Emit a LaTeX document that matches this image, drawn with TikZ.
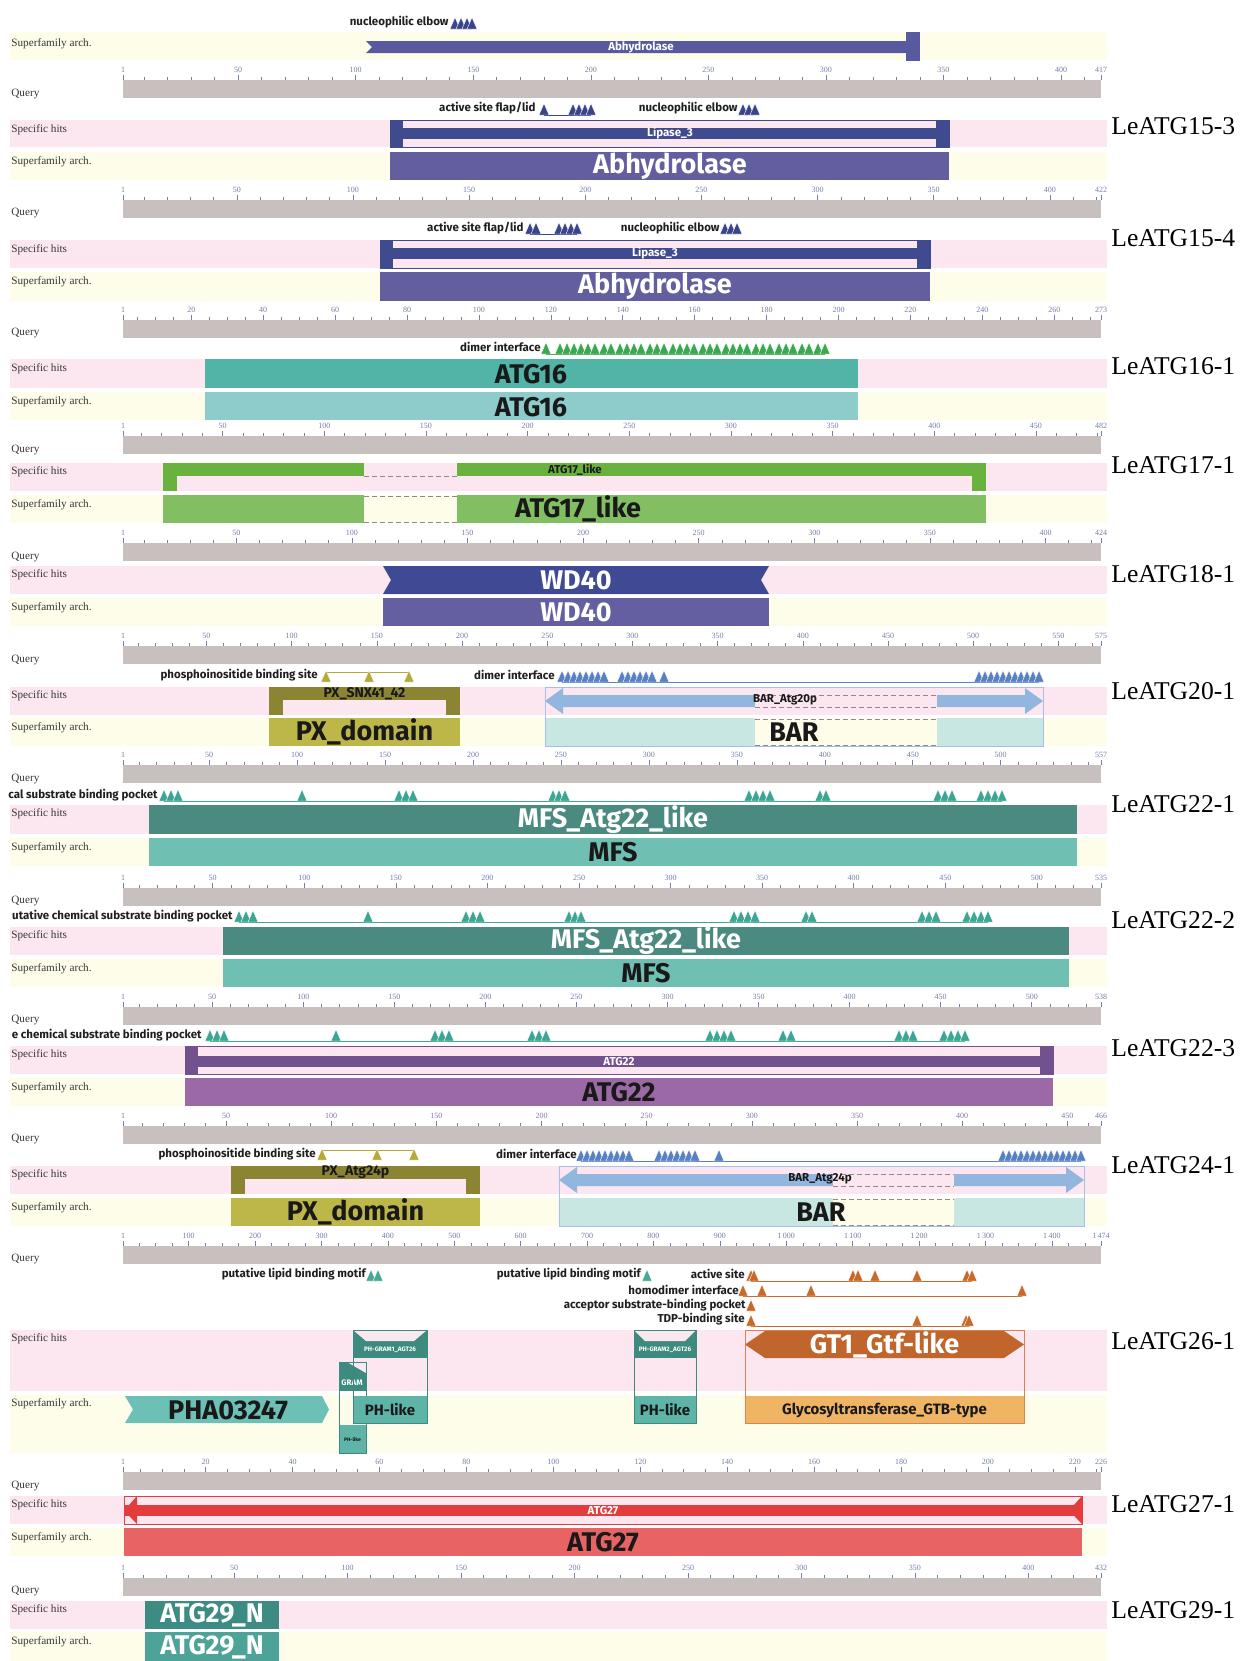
\documentclass[tikz,border=0pt]{standalone}
\usepackage{fontspec}
\setmainfont{Liberation Serif}
\newfontfamily\fira{Fira Sans}
\definecolor{spbg}{RGB}{252,230,240}
\definecolor{sfbg}{RGB}{253,253,233}
\definecolor{qgray}{RGB}{200,192,190}
\definecolor{rulc}{RGB}{118,126,170}
\definecolor{rowc}{RGB}{55,55,55}
\definecolor{navy}{RGB}{58,68,138}
\definecolor{abhy}{RGB}{99,95,158}
\definecolor{abhyA}{RGB}{88,90,160}
\definecolor{lipase}{RGB}{64,74,143}
\definecolor{gsite}{RGB}{58,168,78}
\definecolor{atgsp}{RGB}{82,180,166}
\definecolor{atgsf}{RGB}{142,204,204}
\definecolor{ssp}{RGB}{106,178,62}
\definecolor{ssf}{RGB}{130,190,98}
\definecolor{wsp}{RGB}{64,74,148}
\definecolor{wsf}{RGB}{99,95,160}
\definecolor{pxsp}{RGB}{139,132,51}
\definecolor{pxsf}{RGB}{189,183,74}
\definecolor{phos}{RGB}{180,170,55}
\definecolor{barar}{RGB}{147,182,222}
\definecolor{barol}{RGB}{165,192,230}
\definecolor{barsf}{RGB}{200,230,226}
\definecolor{dblue}{RGB}{88,128,196}
\definecolor{msp}{RGB}{75,138,128}
\definecolor{msf}{RGB}{111,192,179}
\definecolor{pock}{RGB}{60,165,147}
\definecolor{asp}{RGB}{114,81,142}
\definecolor{asf}{RGB}{155,106,166}
\definecolor{gtone}{RGB}{192,101,44}
\definecolor{gtb}{RGB}{240,180,101}
\definecolor{gtol}{RGB}{215,130,80}
\definecolor{osite}{RGB}{200,105,42}
\definecolor{lsite}{RGB}{72,168,152}
\definecolor{pha}{RGB}{108,192,181}
\definecolor{phg}{RGB}{61,139,127}
\definecolor{phl}{RGB}{93,180,167}
\definecolor{rsp}{RGB}{226,60,60}
\definecolor{rsf}{RGB}{232,100,100}
\definecolor{tsp}{RGB}{60,140,132}
\definecolor{tsf}{RGB}{78,163,152}
\definecolor{dashc}{RGB}{140,140,140}
\newcommand{\fRow}{\fontsize{5.6}{6.5}\selectfont}
\newcommand{\fRul}{\fontsize{4}{4.5}\selectfont}
\newcommand{\fSite}{\fira\bfseries\fontsize{5.75}{6.5}\selectfont}
\newcommand{\fBig}{\fira\bfseries\fontsize{13.5}{15}\selectfont}
\newcommand{\fMid}{\fira\bfseries\fontsize{7}{8}\selectfont}
\newcommand{\fSmall}{\fira\bfseries\fontsize{5.75}{6.5}\selectfont}
\newcommand{\fRight}{\fontsize{12.8}{14}\selectfont}
\tikzset{
 rl/.style={anchor=west,inner sep=0,text=rowc,font=\fRow},
 rn/.style={inner sep=0,text=rulc,font=\fRul},
 tk/.style={draw=rulc,line width=0.3pt},
 site/.style={anchor=east,inner sep=0,text=black!88,font=\fSite},
 lbBig/.style={inner sep=0,font=\fBig},
 lbMid/.style={inner sep=0,font=\fMid},
 lbSml/.style={inner sep=0,font=\fSmall},
 rt/.style={anchor=west,inner sep=0,font=\fRight},
 dsh/.style={draw=dashc,dash pattern=on 2.5pt off 1.5pt,line width=0.4pt},
 ol/.style={line width=0.5pt},
 sline/.style={line width=0.5pt},
}
\newcommand{\bgstripe}[3]{\fill[#1] (10,#2) rectangle (1107,#3);}
\newcommand{\tris}[3]{\foreach \x in {#3}{\fill[#1,draw=white,line width=0.2pt] (\x-5,#2) -- (\x,#2-11.5) -- (\x+5,#2) -- cycle;}}
\newcommand{\qruler}[4]{%
  \fill[qgray] (123,#1) rectangle (1101,#1+18);
  \pgfmathtruncatemacro{\nmin}{(#2)/(#3)}%
  \foreach \k in {1,...,\nmin}{%
    \pgfmathsetmacro{\xx}{123+(\k*#3-1)/(#2-1)*978}%
    \draw[tk] (\xx,#1-0.5) -- (\xx,#1-3);}%
  \foreach \v in {#4}{%
    \pgfmathsetmacro{\xx}{123+(\v-1)/(#2-1)*978}%
    \draw[tk] (\xx,#1-0.5) -- (\xx,#1-5.5);
    \node[rn] at (\xx,#1-10.5) {\v};}%
}
\newcommand{\capbar}[6]{%
  \draw[#1,ol] (#2,#4+0.5) rectangle (#3,#5);
  \fill[#1] (#2,#4) rectangle (#2+13,#5);
  \fill[#1] (#3-13,#4) rectangle (#3,#5);
  \fill[#1] (#2,#6-5.5) rectangle (#3,#6+5.5);}
\newcommand{\pxbracket}[5]{%
  \fill[#1] (#2,#4) rectangle (#3,#4+13);
  \fill[#1] (#2,#4) rectangle (#2+14,#5);
  \fill[#1] (#3-14,#4) rectangle (#3,#5);}
\newcommand{\dblarrow}[4]{%
  \fill[#1] (#2,#4) -- (#2+18,#4-13) -- (#2+18,#4-6) -- (#3-18,#4-6) -- (#3-18,#4-13) -- (#3,#4)
   -- (#3-18,#4+13) -- (#3-18,#4+6) -- (#2+18,#4+6) -- (#2+18,#4+13) -- cycle;}
\begin{document}
\begin{tikzpicture}[x=0.5pt,y=-0.5pt]
\useasboundingbox (0,0) rectangle (1239,1661);
\clip (0,0) rectangle (1239,1661);
\fill[white] (0,0) rectangle (1239,1661);

% ---------------- Block A
\bgstripe{sfbg}{32}{60}
\node[rl] (lA1) at (11,44) {Superfamily arch.};
\node[site] (sA1) at (449,22) {nucleophilic elbow};
\tris{navy}{29}{455,461,467,472}
\fill[abhyA] (366,41) -- (906,41) -- (906,53) -- (366,53) -- (372,47) -- cycle;
\fill[abhyA] (906,32) rectangle (920,61);
\node[lbSml,text=white] (dA1) at (641,47) {Abhydrolase};
\qruler{80}{417}{10}{1,50,100,150,200,250,300,350,400,417}
\node[rl] (qA) at (11,94) {Query};

% ---------------- Block B  LeATG15-3
\bgstripe{spbg}{120}{147}
\bgstripe{sfbg}{152}{180}
\node[rl] (lB1) at (11,130) {Specific hits};
\node[rl] (lB2) at (11,162) {Superfamily arch.};
\node[site] (sB1) at (536,108) {active site flap/lid};
\draw[navy,sline] (544,115) -- (591,115);
\tris{navy}{115}{544,573,579,585,591}
\node[site] (sB2) at (738,108) {nucleophilic elbow};
\tris{navy}{115}{743,749,755}
\capbar{lipase}{390}{949}{120}{147}{133}
\node[lbSml,text=white] (dB1) at (670,133) {Lipase\_3};
\fill[abhy] (390,152) rectangle (949,180);
\node[lbBig,text=white] (dB2) at (670,166) {Abhydrolase};
\qruler{200}{422}{10}{1,50,100,150,200,250,300,350,400,422}
\node[rl] (qB) at (11,213) {Query};
\node[rt] (tB) at (1111,126) {LeATG15-3};

% ---------------- Block C  LeATG15-4
\bgstripe{spbg}{240}{268}
\bgstripe{sfbg}{272}{301}
\node[rl] (lC1) at (11,250) {Specific hits};
\node[rl] (lC2) at (11,282) {Superfamily arch.};
\node[site] (sC1) at (524,228) {active site flap/lid};
\draw[navy,sline] (530,234) -- (577,234);
\tris{navy}{234}{530,536,559,565,571,577}
\node[site] (sC2) at (720,228) {nucleophilic elbow};
\tris{navy}{234}{725,731,737}
\capbar{lipase}{380}{930}{240}{268}{253.5}
\node[lbSml,text=white] (dC1) at (655,253.5) {Lipase\_3};
\fill[abhy] (380,272) rectangle (930,301);
\node[lbBig,text=white] (dC2) at (655,286.5) {Abhydrolase};
\qruler{320}{273}{5}{1,20,40,60,80,100,120,140,160,180,200,220,240,260,273}
\node[rl] (qC) at (11,333) {Query};
\node[rt] (tC) at (1111,238) {LeATG15-4};

% ---------------- Block D  LeATG16-1
\bgstripe{spbg}{359}{388}
\bgstripe{sfbg}{392}{420}
\node[rl] (lD1) at (11,369) {Specific hits};
\node[rl] (lD2) at (11,402) {Superfamily arch.};
\node[site] (sD1) at (541,347) {dimer interface};
\draw[gsite,sline] (546,354) -- (825,354);
\tris{gsite}{354}{546,560,567,574,581,588,595,604,611,620,627,634,641,650,657,664,673,680,687,694,703,710,717,726,733,740,747,756,763,770,779,786,793,802,809,818,825}
\fill[atgsp] (205,359) rectangle (858,388);
\node[lbBig,text=black!90] (dD1) at (531,374) {ATG16};
\fill[atgsf] (205,392) rectangle (858,420);
\node[lbBig,text=black!90] (dD2) at (531,407) {ATG16};
\qruler{436}{482}{10}{1,50,100,150,200,250,300,350,400,450,482}
\node[rl] (qD) at (11,450) {Query};
\node[rt] (tD) at (1111,366) {LeATG16-1};

% ---------------- Block E  LeATG17-1
\bgstripe{spbg}{463}{491}
\bgstripe{sfbg}{495}{523}
\node[rl] (lE1) at (11,472) {Specific hits};
\node[rl] (lE2) at (11,505) {Superfamily arch.};
\pxbracket{ssp}{163}{986}{463}{491}
\fill[spbg] (364,463) rectangle (457,476.5);
\draw[dsh] (364,476) -- (457,476);
\node[lbSml,text=black!90] (dE1) at (575,469.5) {ATG17\_like};
\fill[ssf] (163,495) rectangle (986,523);
\fill[sfbg] (364,495) rectangle (457,523);
\draw[dsh] (364,496) -- (457,496);
\draw[dsh] (364,522) -- (457,522);
\node[lbBig,text=black!90] (dE2) at (578,509) {ATG17\_like};
\qruler{543}{424}{10}{1,50,100,150,200,250,300,350,400,424}
\node[rl] (qE) at (11,557) {Query};
\node[rt] (tE) at (1111,465) {LeATG17-1};

% ---------------- Block F  LeATG18-1
\bgstripe{spbg}{566}{594}
\bgstripe{sfbg}{598}{626}
\node[rl] (lF1) at (11,575) {Specific hits};
\node[rl] (lF2) at (11,608) {Superfamily arch.};
\fill[wsp] (383,566) -- (769,566) -- (761,580) -- (769,594) -- (383,594) -- (391,580) -- cycle;
\node[lbBig,text=white] (dF1) at (576,580) {WD40};
\fill[wsf] (383,598) rectangle (769,626);
\node[lbBig,text=white] (dF2) at (576,612) {WD40};
\qruler{646}{575}{10}{1,50,100,150,200,250,300,350,400,450,500,550,575}
\node[rl] (qF) at (11,660) {Query};
\node[rt] (tF) at (1111,574) {LeATG18-1};

% ---------------- Block G  LeATG20-1
\bgstripe{spbg}{687}{715}
\bgstripe{sfbg}{718}{746}
\node[rl] (lG1) at (11,696) {Specific hits};
\node[rl] (lG2) at (11,728) {Superfamily arch.};
\node[site] (sG1) at (318,675) {phosphoinositide binding site};
\draw[phos,sline] (326,672) -- (409,672);
\tris{phos}{682}{326,369,409}
\node[site] (sG2) at (555,675) {dimer interface};
\draw[dblue,sline] (562,682) -- (1039,682);
\tris{dblue}{682}{562,568,574,580,586,592,598,604,622,628,634,640,646,652,664,979,985,991,997,1003,1009,1015,1021,1027,1033,1039}
\pxbracket{pxsp}{269}{460}{687}{715}
\node[lbMid,text=black!90] (dG1) at (364.5,693.5) {PX\_SNX41\_42};
\fill[pxsf] (269,718) rectangle (460,746);
\node[lbBig,text=black!90] (dG2) at (364.5,732) {PX\_domain};
\dblarrow{barar}{545}{1043}{701}
\fill[spbg] (755,694) rectangle (937,708);
\draw[dsh] (755,695) -- (937,695);
\draw[dsh] (755,707) -- (937,707);
\node[lbSml,text=black!90] (dG3) at (785,700) {BAR\_Atg20p};
\fill[barsf] (545,718) rectangle (1043,746);
\fill[sfbg] (755,718) rectangle (937,746);
\draw[dsh] (755,719) -- (937,719);
\draw[dsh] (755,745) -- (937,745);
\draw[barol,ol] (545,687) rectangle (1043,746);
\node[lbBig,text=black!90] (dG4) at (794,732) {BAR};
\qruler{765}{557}{10}{1,50,100,150,200,250,300,350,400,450,500,557}
\node[rl] (qG) at (11,779) {Query};
\node[rt] (tG) at (1111,691) {LeATG20-1};

% ---------------- Block H  LeATG22-1
\bgstripe{spbg}{805}{834}
\bgstripe{sfbg}{838}{866}
\node[rl] (lH1) at (11,814) {Specific hits};
\node[rl] (lH2) at (11,848) {Superfamily arch.};
\node[site] (sH1) at (158,795) {cal substrate binding pocket};
\draw[pock,sline] (164,801) -- (1002,801);
\tris{pock}{801}{164,171,178,302,399,406,413,553,559,565,749,756,763,770,820,826,938,945,952,981,988,995,1002}
\fill[msp] (149,805) rectangle (1077,834);
\node[lbBig,text=white] (dH1) at (613,819.5) {MFS\_Atg22\_like};
\fill[msf] (149,838) rectangle (1077,866);
\node[lbBig,text=black!90] (dH2) at (613,852) {MFS};
\qruler{888}{535}{10}{1,50,100,150,200,250,300,350,400,450,500,535}
\node[rl] (qH) at (11,901) {Query};
\node[rt] (tH) at (1111,804) {LeATG22-1};

% ---------------- Block I  LeATG22-2
\bgstripe{spbg}{927}{955}
\bgstripe{sfbg}{959}{987}
\node[rl] (lI1) at (11,936) {Specific hits};
\node[rl] (lI2) at (11,969) {Superfamily arch.};
\node[site] (sI1) at (233,916) {utative chemical substrate binding pocket};
\draw[pock,sline] (239,922) -- (988,922);
\tris{pock}{922}{239,246,253,368,466,473,480,569,575,581,734,741,748,755,806,812,922,929,936,967,974,981,988}
\fill[msp] (223,927) rectangle (1069,955);
\node[lbBig,text=white] (dI1) at (646,941) {MFS\_Atg22\_like};
\fill[msf] (223,959) rectangle (1069,987);
\node[lbBig,text=black!90] (dI2) at (646,973) {MFS};
\qruler{1007}{538}{10}{1,50,100,150,200,250,300,350,400,450,500,538}
\node[rl] (qI) at (11,1020) {Query};
\node[rt] (tI) at (1111,920) {LeATG22-2};

% ---------------- Block J  LeATG22-3
\bgstripe{spbg}{1046}{1074}
\bgstripe{sfbg}{1078}{1106}
\node[rl] (lJ1) at (11,1055) {Specific hits};
\node[rl] (lJ2) at (11,1088) {Superfamily arch.};
\node[site] (sJ1) at (202,1035) {e chemical substrate binding pocket};
\draw[pock,sline] (210,1041) -- (965,1041);
\tris{pock}{1041}{210,217,224,336,435,442,449,532,539,546,710,717,724,731,783,791,899,906,913,944,951,958,965}
\capbar{asp}{185}{1053}{1046}{1074}{1061}
\node[lbSml,text=white] (dJ1) at (619,1061) {ATG22};
\fill[asf] (185,1078) rectangle (1053,1106);
\node[lbBig,text=black!90] (dJ2) at (619,1092) {ATG22};
\qruler{1126}{466}{10}{1,50,100,150,200,250,300,350,400,450,466}
\node[rl] (qJ) at (11,1139) {Query};
\node[rt] (tJ) at (1111,1048) {LeATG22-3};

% ---------------- Block K  LeATG24-1
\bgstripe{spbg}{1166}{1194}
\bgstripe{sfbg}{1198}{1226}
\node[rl] (lK1) at (11,1175) {Specific hits};
\node[rl] (lK2) at (11,1208) {Superfamily arch.};
\node[site] (sK1) at (316,1154) {phosphoinositide binding site};
\draw[phos,sline] (322,1150) -- (414,1150);
\tris{phos}{1160}{322,377,414}
\node[site] (sK2) at (577,1154) {dimer interface};
\draw[dblue,sline] (581,1161) -- (1081,1161);
\tris{dblue}{1161}{581,587,593,599,605,611,617,623,629,659,665,671,677,683,689,695,719,1003,1009,1015,1021,1027,1033,1039,1045,1051,1057,1063,1069,1075,1081}
\pxbracket{pxsp}{231}{480}{1166}{1194}
\node[lbMid,text=black!90] (dK1) at (355.5,1172.5) {PX\_Atg24p};
\fill[pxsf] (231,1198) rectangle (480,1226);
\node[lbBig,text=black!90] (dK2) at (355.5,1212) {PX\_domain};
\dblarrow{barar}{559}{1084}{1180}
\fill[spbg] (833,1173) rectangle (954,1187);
\draw[dsh] (833,1174) -- (954,1174);
\draw[dsh] (833,1186) -- (954,1186);
\node[lbSml,text=black!90] (dK3) at (820,1179) {BAR\_Atg24p};
\fill[barsf] (559,1198) rectangle (1084,1226);
\fill[sfbg] (833,1198) rectangle (954,1226);
\draw[dsh] (833,1199) -- (954,1199);
\draw[dsh] (833,1225) -- (954,1225);
\draw[barol,ol] (559,1166) rectangle (1084,1226);
\node[lbBig,text=black!90] (dK4) at (821,1212) {BAR};
\qruler{1246}{1474}{25}{1,100,200,300,400,500,600,700,800,900}
\foreach \v/\t in {1000/1\,000,1100/1\,100,1200/1\,200,1300/1\,300,1400/1\,400,1474/1\,474}{%
  \pgfmathsetmacro{\xx}{123+(\v-1)/1473*978}%
  \draw[tk] (\xx,1245.5) -- (\xx,1240.5);
  \node[rn] at (\xx,1235.5) {\t};}
\node[rl] (qK) at (11,1259) {Query};
\node[rt] (tK) at (1111,1165) {LeATG24-1};

% ---------------- Block L  LeATG26-1
\bgstripe{spbg}{1330}{1391}
\bgstripe{sfbg}{1395}{1453}
\node[rl] (lL1) at (11,1339) {Specific hits};
\node[rl] (lL2) at (11,1404) {Superfamily arch.};
\node[site] (sL1) at (366,1274) {putative lipid binding motif};
\tris{lsite}{1281}{371,378}
\node[site] (sL2) at (641,1274) {putative lipid binding motif};
\tris{lsite}{1281}{647}
\node[site] (sL3) at (745,1274) {active site};
\draw[osite,sline] (751,1281) -- (972,1281);
\tris{osite}{1281}{751,754,853,858,875,917,967,972}
\node[site] (sL4) at (739,1290) {homodimer interface};
\draw[osite,sline] (743,1296) -- (1022,1296);
\tris{osite}{1296}{743,762,811,1022}
\node[site] (sL5) at (746,1305) {acceptor substrate-binding pocket};
\tris{osite}{1311}{751}
\node[site] (sL6) at (745,1319) {TDP-binding site};
\draw[osite,sline] (751,1326) -- (969,1326);
\tris{osite}{1326}{751,917,966,969}
% PHA03247
\fill[pha] (125,1396) -- (322,1396) -- (329,1409.5) -- (322,1423) -- (125,1423) -- (133,1409.5) -- cycle;
\node[lbBig,text=black!90] (dL1) at (228,1410) {PHA03247};
% GRAM
\fill[phg] (339,1362) rectangle (366,1391);
\fill[spbg] (347,1362) -- (366,1362) -- (366,1373) -- cycle;
\node[inner sep=0,font=\fira\bfseries\fontsize{4}{5}\selectfont,text=white] (dL2) at (352,1383) {GRAM};
\fill[phl] (339,1425) rectangle (366,1453);
\node[inner sep=0,font=\fira\bfseries\fontsize{2.5}{3}\selectfont,text=black!90] (dL3) at (352.5,1439) {PH-like};
\draw[phg,ol] (339,1362) rectangle (366,1453);
% PH-GRAM1
\fill[phg] (353,1330) rectangle (427,1358);
\fill[spbg] (353,1330) -- (427,1330) -- (414,1341) -- (366,1341) -- cycle;
\node[inner sep=0,font=\fira\bfseries\fontsize{3.2}{4}\selectfont,text=white] (dL4) at (390,1350) {PH-GRAM1\_AGT26};
\fill[phl] (353,1396) rectangle (427,1423);
\node[inner sep=0,font=\fira\bfseries\fontsize{7.5}{8}\selectfont,text=black!90] (dL5) at (390,1410) {PH-like};
\draw[phg,ol] (353,1330) rectangle (427,1423);
% PH-GRAM2
\fill[phg] (634,1330) rectangle (696,1358);
\fill[spbg] (634,1330) -- (696,1330) -- (685,1341) -- (645,1341) -- cycle;
\node[inner sep=0,font=\fira\bfseries\fontsize{3.2}{4}\selectfont,text=white] (dL6) at (665,1350) {PH-GRAM2\_AGT26};
\fill[phl] (634,1396) rectangle (696,1423);
\node[inner sep=0,font=\fira\bfseries\fontsize{7.5}{8}\selectfont,text=black!90] (dL7) at (665,1410) {PH-like};
\draw[phg,ol] (634,1330) rectangle (696,1423);
% GT1
\fill[gtone] (745,1344.5) -- (765,1331) -- (1004,1331) -- (1024,1344.5) -- (1004,1358) -- (765,1358) -- cycle;
\node[lbBig,text=white] (dL8) at (884.5,1344.5) {GT1\_Gtf-like};
\fill[gtb] (745,1396) rectangle (1024,1423);
\node[inner sep=0,font=\fira\bfseries\fontsize{7.5}{8}\selectfont,text=black!90] (dL9) at (884.5,1410) {Glycosyltransferase\_GTB-type};
\draw[gtol,ol] (745,1330) rectangle (1024,1423);
\qruler{1472}{226}{5}{1,20,40,60,80,100,120,140,160,180,200,220,226}
\node[rl] (qL) at (11,1486) {Query};
\node[rt] (tL) at (1111,1341) {LeATG26-1};

% ---------------- Block M  LeATG27-1
\bgstripe{spbg}{1496}{1524}
\bgstripe{sfbg}{1528}{1556}
\node[rl] (lM1) at (11,1505) {Specific hits};
\node[rl] (lM2) at (11,1538) {Superfamily arch.};
\draw[rsp,ol] (124,1496.5) rectangle (1082,1524);
\fill[rsp] (124,1505) rectangle (1082,1516);
\fill[rsp] (124,1510.5) -- (137,1496) -- (137,1524) -- cycle;
\fill[rsp] (1069,1510.5) -- (1082,1496) -- (1082,1524) -- cycle;
\node[lbSml,text=white] (dM1) at (603,1510.5) {ATG27};
\fill[rsf] (124,1528) rectangle (1082,1556);
\node[lbBig,text=black!90] (dM2) at (603,1542) {ATG27};
\qruler{1578}{432}{10}{1,50,100,150,200,250,300,350,400,432}
\node[rl] (qM) at (11,1591) {Query};
\node[rt] (tM) at (1111,1504) {LeATG27-1};

% ---------------- Block N  LeATG29-1
\bgstripe{spbg}{1601}{1629}
\bgstripe{sfbg}{1632}{1661}
\node[rl] (lN1) at (11,1610) {Specific hits};
\node[rl] (lN2) at (11,1642) {Superfamily arch.};
\fill[tsp] (145,1601) rectangle (279,1629);
\node[lbBig,text=white] (dN1) at (212,1615) {ATG29\_N};
\fill[tsf] (145,1632) rectangle (279,1661);
\node[lbBig,text=white] (dN2) at (212,1647) {ATG29\_N};
\node[rt] (tN) at (1111,1610) {LeATG29-1};
\end{tikzpicture}
\end{document}
